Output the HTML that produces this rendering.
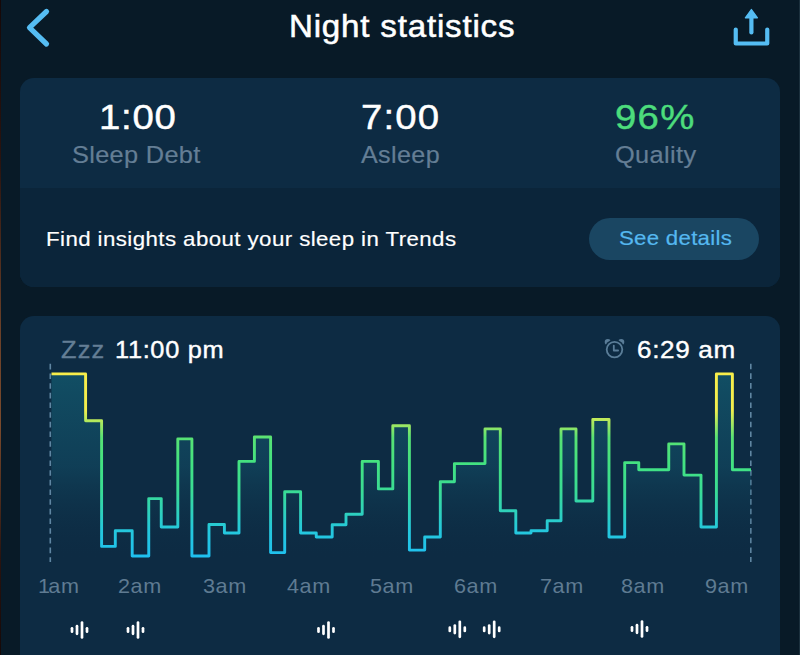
<!DOCTYPE html>
<html>
<head>
<meta charset="utf-8">
<style>
html,body{margin:0;padding:0;}
body{width:800px;height:655px;overflow:hidden;background:#081a27;font-family:"Liberation Sans",sans-serif;position:relative;color:#fff;}
.abs{position:absolute;}
.edge{left:0;top:0;width:1px;height:655px;background:linear-gradient(#150808,#2a1410 25%,#6a4028 50%,#7a4a2c 65%,#2a1410 85%,#150808);}
.card{left:20px;width:760px;background:#0d2b43;border-radius:14px;overflow:hidden;}
#c1{top:78px;height:209px;}
#c1 .low{position:absolute;left:0;top:110px;width:760px;height:99px;background:#0b253a;}
#c2{top:315.5px;height:360px;}
.btn{left:589px;top:217.5px;width:170px;height:42.5px;border-radius:22px;background:#1a4662;}
.tx{position:absolute;white-space:nowrap;transform-origin:0 0;line-height:1.2;}
</style>
</head>
<body>
<div class="abs edge"></div>
<div class="abs" style="left:799px;top:0;width:1px;height:655px;background:#1b303d"></div>
<svg class="abs" style="left:0;top:0" width="800" height="70" viewBox="0 0 800 70">
  <polyline points="46.5,11.5 29.5,27.7 46.5,44" fill="none" stroke="#55bdf3" stroke-width="5.2" stroke-linecap="round" stroke-linejoin="round"/>
  <g fill="none" stroke="#55bdf3" stroke-width="4.2" stroke-linecap="round" stroke-linejoin="round">
    <polyline points="735.75,29.6 735.75,43.5 767.25,43.5 767.25,29.6"/>
    <line x1="751.4" y1="17" x2="751.4" y2="32.5"/>
  </g>
  <path d="M751.4 9.6 L757.4 17.8 L745.4 17.8 Z" fill="#55bdf3" stroke="#55bdf3" stroke-width="1.4" stroke-linejoin="round"/>
</svg>
<div class="abs card" id="c1"><div class="low"></div></div>
<div class="abs btn"></div>
<div class="abs card" id="c2"></div>
<svg class="abs" style="left:600px;top:334px" width="30" height="30" viewBox="0 0 30 30">
  <circle cx="7.8" cy="8" r="3.1" fill="#5a7d98"/><circle cx="21.2" cy="8" r="3.1" fill="#5a7d98"/>
  <circle cx="14.5" cy="15.6" r="10.2" fill="#0d2b43"/>
  <g fill="none" stroke="#5a7d98" stroke-width="1.8" stroke-linecap="round" stroke-linejoin="round">
    <circle cx="14.5" cy="15.6" r="7.8"/>
    <polyline points="13.8,11.6 13.8,16.5 18.1,16.5"/>
  </g>
</svg>
<svg class="abs" style="left:0;top:316px" width="800" height="339" viewBox="0 316 800 339">
  <defs>
    <linearGradient id="lg" gradientUnits="userSpaceOnUse" x1="0" y1="373" x2="0" y2="557">
      <stop offset="0" stop-color="#f8ee4a"/>
      <stop offset="0.2" stop-color="#f2ee4e"/>
      <stop offset="0.35" stop-color="#58e274"/>
      <stop offset="0.5" stop-color="#42e282"/>
      <stop offset="0.64" stop-color="#3adc94"/>
      <stop offset="0.85" stop-color="#25c8dc"/>
      <stop offset="1" stop-color="#1fc0f0"/>
    </linearGradient>
    <linearGradient id="fg" gradientUnits="userSpaceOnUse" x1="0" y1="373" x2="0" y2="560">
      <stop offset="0" stop-color="#146478" stop-opacity="0.62"/>
      <stop offset="0.5" stop-color="#145e76" stop-opacity="0.38"/>
      <stop offset="1" stop-color="#0d2b43" stop-opacity="0"/>
    </linearGradient>
  </defs>
  <line x1="50.3" y1="363.8" x2="50.3" y2="562" stroke="#5f86a2" stroke-width="1.6" stroke-dasharray="5.6,4.07"/>
  <line x1="750.8" y1="363.7" x2="750.8" y2="562" stroke="#5f86a2" stroke-width="1.6" stroke-dasharray="5.6,4.07"/>
  <path fill="url(#fg)" d="M51.5 373.9H85.6V420.75H101.6V546.4H115.3V530.75H132.2V556H148.75V498.6H161.25V527H177.8V438.9H191.9V556H209V524.5H224.4V533H239V461.4H254.4V437H270.6V552.6H284.7V491.7H300.6V533H316.25V537H332.2V524.8H346V514.2H362.2V461.4H378.4V488.9H392.8V425.75H409.4V550.1H424.7V537H440.3V481.7H454.4V463.6H485V428.9H500.3V510.75H515.8V533H531V530.75H547.2V520.75H561V428.9H576V501H592.8V419.5H609V537H624.7V462.6H638.75V469.8H668.75V443.9H684V475.1H701V527H716.4V373.9H732.4V469.8H751V560H51.5Z"/>
  <path fill="none" stroke="url(#lg)" stroke-width="2.9" stroke-linejoin="round" d="M51.5 373.9H85.6V420.75H101.6V546.4H115.3V530.75H132.2V556H148.75V498.6H161.25V527H177.8V438.9H191.9V556H209V524.5H224.4V533H239V461.4H254.4V437H270.6V552.6H284.7V491.7H300.6V533H316.25V537H332.2V524.8H346V514.2H362.2V461.4H378.4V488.9H392.8V425.75H409.4V550.1H424.7V537H440.3V481.7H454.4V463.6H485V428.9H500.3V510.75H515.8V533H531V530.75H547.2V520.75H561V428.9H576V501H592.8V419.5H609V537H624.7V462.6H638.75V469.8H668.75V443.9H684V475.1H701V527H716.4V373.9H732.4V469.8H751"/>
  <g stroke="#fff" stroke-width="2.7" stroke-linecap="round"><line x1="72.0" y1="628.35" x2="72.0" y2="631.65"/><line x1="77.0" y1="626.20" x2="77.0" y2="633.80"/><line x1="82.0" y1="622.50" x2="82.0" y2="637.50"/><line x1="87.0" y1="628.35" x2="87.0" y2="631.65"/><line x1="128.0" y1="628.35" x2="128.0" y2="631.65"/><line x1="133.0" y1="626.20" x2="133.0" y2="633.80"/><line x1="138.0" y1="622.50" x2="138.0" y2="637.50"/><line x1="143.0" y1="628.35" x2="143.0" y2="631.65"/><line x1="318.5" y1="628.35" x2="318.5" y2="631.65"/><line x1="323.5" y1="626.20" x2="323.5" y2="633.80"/><line x1="328.5" y1="622.50" x2="328.5" y2="637.50"/><line x1="333.5" y1="628.35" x2="333.5" y2="631.65"/><line x1="449.8" y1="627.65" x2="449.8" y2="630.95"/><line x1="454.8" y1="625.50" x2="454.8" y2="633.10"/><line x1="459.8" y1="621.80" x2="459.8" y2="636.80"/><line x1="464.8" y1="627.65" x2="464.8" y2="630.95"/><line x1="484.2" y1="627.65" x2="484.2" y2="630.95"/><line x1="489.2" y1="625.50" x2="489.2" y2="633.10"/><line x1="494.2" y1="621.80" x2="494.2" y2="636.80"/><line x1="499.2" y1="627.65" x2="499.2" y2="630.95"/><line x1="632.0" y1="627.35" x2="632.0" y2="630.65"/><line x1="637.0" y1="625.20" x2="637.0" y2="632.80"/><line x1="642.0" y1="621.50" x2="642.0" y2="636.50"/><line x1="647.0" y1="627.35" x2="647.0" y2="630.65"/></g>
</svg>
<div class="tx" style="left:288.8px;top:9px;font-size:30.7px;color:#fff;-webkit-text-stroke:0.5px #fff;letter-spacing:0.73px;transform:scaleX(1.08)">Night statistics</div>
<div class="tx" style="left:98.6px;top:96.3px;font-size:35.5px;color:#fff;-webkit-text-stroke:0.45px #fff;letter-spacing:0.7px;transform:scaleX(1.08)">1:00</div>
<div class="tx" style="left:360.8px;top:96.3px;font-size:35.5px;color:#fff;-webkit-text-stroke:0.45px #fff;letter-spacing:1.1px;transform:scaleX(1.08)">7:00</div>
<div class="tx" style="left:615.4px;top:96.3px;font-size:35.5px;color:#4cdc7c;-webkit-text-stroke:0.45px #4cdc7c;letter-spacing:1.2px;transform:scaleX(1.08)">96%</div>
<div class="tx" style="left:71.6px;top:141px;font-size:23.7px;color:#647e95;-webkit-text-stroke:0.2px #647e95;letter-spacing:0.3px;transform:scaleX(1.07)">Sleep Debt</div>
<div class="tx" style="left:360.8px;top:141px;font-size:23.7px;color:#647e95;-webkit-text-stroke:0.2px #647e95;letter-spacing:0.35px;transform:scaleX(1.06)">Asleep</div>
<div class="tx" style="left:614.6px;top:141px;font-size:23.7px;color:#647e95;-webkit-text-stroke:0.2px #647e95;letter-spacing:0.35px;transform:scaleX(1.07)">Quality</div>
<div class="tx" style="left:46.2px;top:227px;font-size:20.8px;color:#fff;-webkit-text-stroke:0.18px #fff;letter-spacing:0.4px;transform:scaleX(1.07)">Find insights about your sleep in Trends</div>
<div class="tx" style="left:619px;top:226px;font-size:20.8px;color:#55b8f0;-webkit-text-stroke:0.2px #55b8f0;letter-spacing:0.25px;transform:scaleX(1.07)">See details</div>
<div class="tx" style="left:60.8px;top:336.1px;font-size:23.7px;color:#647e95;-webkit-text-stroke:0.3px #647e95;letter-spacing:1.1px;transform:scaleX(1.07)">Zzz</div>
<div class="tx" style="left:115px;top:335.9px;font-size:23.7px;color:#fff;-webkit-text-stroke:0.4px #fff;letter-spacing:0.63px;transform:scaleX(1.07)">11:00 pm</div>
<div class="tx" style="left:636.9px;top:335.9px;font-size:23.7px;color:#fff;-webkit-text-stroke:0.4px #fff;letter-spacing:0.6px;transform:scaleX(1.1)">6:29 am</div>
<div class="tx" style="left:38.3px;top:574px;font-size:20.2px;color:#5f7b92;letter-spacing:0.55px;transform:scaleX(1.07)"><span style="letter-spacing:-1.6px">1</span>am</div>
<div class="tx" style="left:117.5px;top:574px;font-size:20.2px;color:#5f7b92;letter-spacing:0.55px;transform:scaleX(1.07)">2am</div>
<div class="tx" style="left:203.0px;top:574px;font-size:20.2px;color:#5f7b92;letter-spacing:0.55px;transform:scaleX(1.07)">3am</div>
<div class="tx" style="left:287.0px;top:574px;font-size:20.2px;color:#5f7b92;letter-spacing:0.55px;transform:scaleX(1.07)">4am</div>
<div class="tx" style="left:369.5px;top:574px;font-size:20.2px;color:#5f7b92;letter-spacing:0.55px;transform:scaleX(1.07)">5am</div>
<div class="tx" style="left:453.5px;top:574px;font-size:20.2px;color:#5f7b92;letter-spacing:0.55px;transform:scaleX(1.07)">6am</div>
<div class="tx" style="left:540.1px;top:574px;font-size:20.2px;color:#5f7b92;letter-spacing:0.55px;transform:scaleX(1.07)">7am</div>
<div class="tx" style="left:621.0px;top:574px;font-size:20.2px;color:#5f7b92;letter-spacing:0.55px;transform:scaleX(1.07)">8am</div>
<div class="tx" style="left:704.5px;top:574px;font-size:20.2px;color:#5f7b92;letter-spacing:0.55px;transform:scaleX(1.07)">9am</div>
</body>
</html>
